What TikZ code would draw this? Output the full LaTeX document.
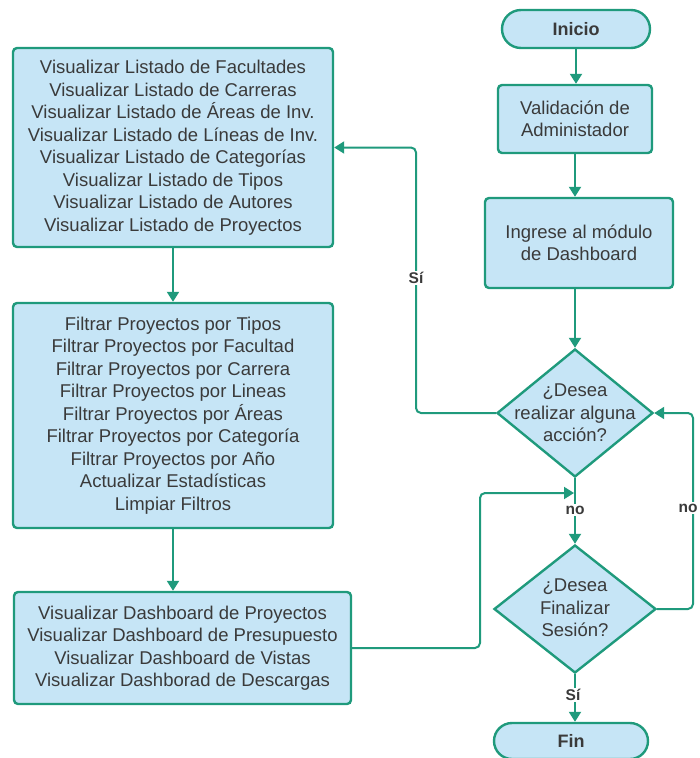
\documentclass[tikz,border=0pt]{standalone}
\usepackage{fontspec}
\setmainfont{Liberation Sans}
\usetikzlibrary{shapes.geometric,shapes.misc,arrows.meta}
\definecolor{boxfill}{RGB}{198,229,246}
\definecolor{edge}{RGB}{31,154,124}
\definecolor{txtc}{RGB}{58,58,58}
\tikzset{
  base/.style={draw=edge, fill=boxfill, line width=2.4pt, text=txtc, align=center, inner sep=2pt},
  stepbox/.style={base, rectangle, rounded corners=4pt, font={\fontsize{18.5}{22.5}\selectfont}},
  term/.style={base, rounded rectangle, font={\bfseries\fontsize{18}{22}\selectfont}},
  dia/.style={base, diamond, inner sep=0pt},
  diatext/.style={text=txtc, align=center, inner sep=0pt, font={\fontsize{18.5}{22.5}\selectfont}},
  lbl/.style={fill=white, text=txtc, inner sep=1.5pt, font={\bfseries\fontsize{15.5}{18}\selectfont}},
  arr/.style={draw=edge, line width=2pt, -{Triangle[length=10pt,width=12pt]}},
}
\begin{document}
\begin{tikzpicture}[x=1pt,y=-1pt]
\useasboundingbox (0,0) rectangle (700,758);
\node[term, minimum width=152pt, minimum height=38pt] (ini) at (576,29) {Inicio};
\node[stepbox, minimum width=154pt, minimum height=68pt] (val) at (575,119) {Validación de\\Administador};
\node[stepbox, minimum width=188pt, minimum height=90pt] (ing) at (579,243) {Ingrese al módulo\\de Dashboard};
\node[dia, minimum width=156pt, minimum height=128pt] (d1) at (575,413) {};
\node[diatext] (d1t) at (575,413) {¿Desea\\realizar alguna\\acción?};
\node[dia, minimum width=162pt, minimum height=128pt] (d2) at (575,609) {};
\node[diatext] (d2t) at (575,608) {¿Desea\\Finalizar\\Sesión?};
\node[term, minimum width=158pt, minimum height=36pt] (fin) at (571,741) {Fin};

\node[stepbox, minimum width=320pt, minimum height=199pt] (b1) at (173,147.5) {Visualizar Listado de Facultades\\Visualizar Listado de Carreras\\Visualizar Listado de Áreas de Inv.\\Visualizar Listado de Líneas de Inv.\\Visualizar Listado de Categorías\\Visualizar Listado de Tipos\\Visualizar Listado de Autores\\Visualizar Listado de Proyectos};
\node[stepbox, minimum width=320pt, minimum height=225pt] (b2) at (173,415.5) {Filtrar Proyectos por Tipos\\Filtrar Proyectos por Facultad\\Filtrar Proyectos por Carrera\\Filtrar Proyectos por Lineas\\Filtrar Proyectos por Áreas\\Filtrar Proyectos por Categoría\\Filtrar Proyectos por Año\\Actualizar Estadísticas\\Limpiar Filtros};
\node[stepbox, minimum width=337pt, minimum height=112pt] (b3) at (182.5,648) {Visualizar Dashboard de Proyectos\\Visualizar Dashboard de Presupuesto\\Visualizar Dashboard de Vistas\\Visualizar Dashborad de Descargas};

\coordinate (cSi) at (416,147.5);
\coordinate (cJ) at (480,493);
\coordinate (cJ2) at (574,493);
\coordinate (cR) at (693,413);

\draw[arr] (ini.south |- ini.south) -- (ini.south |- val.north);
\draw[arr] (val) -- (val.south |- ing.north);
\draw[arr] (d1.north |- ing.south) -- (d1.north);
\draw[arr, rounded corners=5pt] (d1.west) -| (cSi) -- (b1.east);
\draw[arr] (b1.south) -- (b2.north);
\draw[arr] (b2.south) -- (b2.south |- b3.north);
\draw[arr, rounded corners=5pt] (b3.east |- 0,648) -| (cJ) -- (cJ2);
\draw[arr] (d1.south) -- (d2.north);
\draw[arr, rounded corners=5pt] (d2.east) -| (cR) -- (d1.east);
\draw[arr] (d2.south) -- (d2.south |- fin.north);

\node[lbl] (lsi) at (416,278) {Sí};
\node[lbl] (lno1) at (575,510) {no};
\node[lbl] (lno2) at (688,508) {no};
\node[lbl] (lsi2) at (573,695) {Sí};
\end{tikzpicture}
\end{document}
